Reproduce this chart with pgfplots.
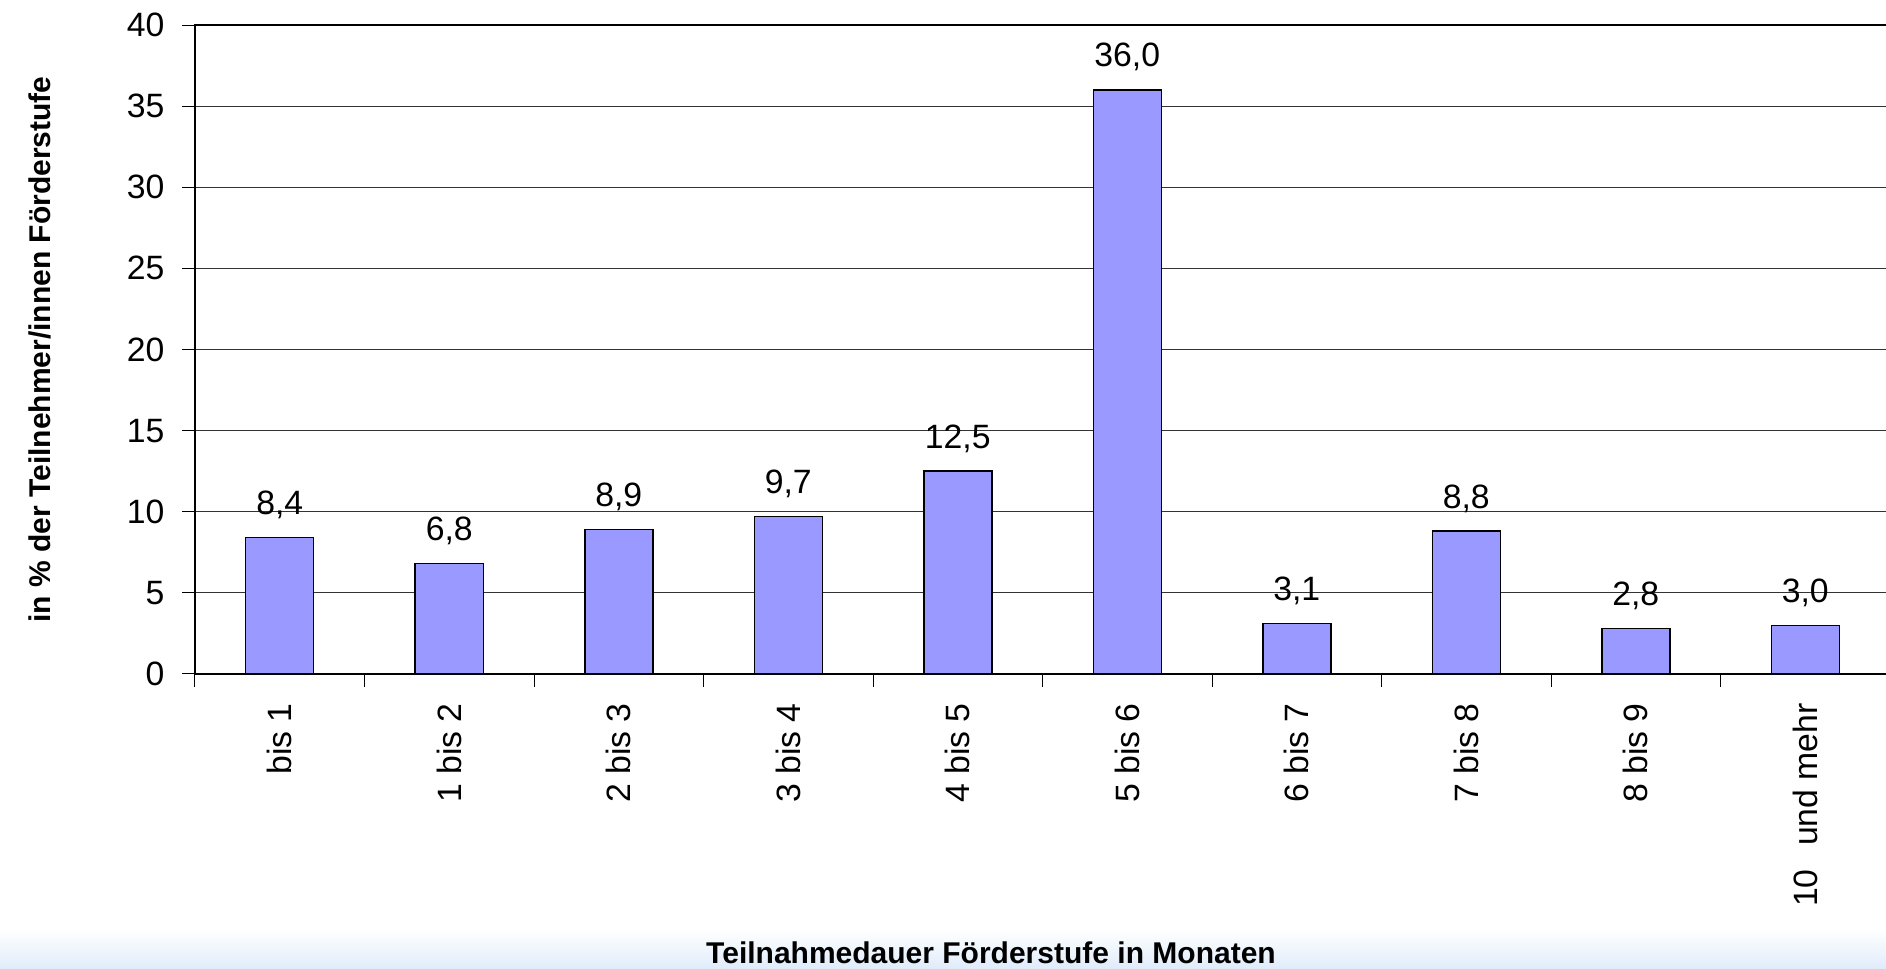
\documentclass[border=0pt]{standalone}
\usepackage{pgfplots}
\pgfplotsset{compat=1.18}
\usepackage{fontspec}
\setmainfont{Liberation Sans}

\definecolor{barblue}{RGB}{153,153,255}
\definecolor{bandblue}{RGB}{224,236,251}

\begin{document}
\begin{tikzpicture}
% picture frame: 1 px of the reference = 0.4pt
\path[use as bounding box] (-78pt,-118pt) rectangle (676.4pt,269.6pt);
\shade[top color=white, bottom color=bandblue] (-78pt,-118pt) rectangle (676.4pt,-102pt);
\begin{axis}[
    ybar,
    scale only axis,
    width=678pt, height=259.6pt,
    xmin=-0.5, xmax=9.5,
    ymin=0, ymax=40,
    ytick={0,5,...,40},
    xtick={-0.5,0.5,...,9.5},
    xticklabels={},
    extra x ticks={0,1,...,9},
    extra x tick labels={bis 1, 1 bis 2, 2 bis 3, 3 bis 4, 4 bis 5, 5 bis 6,
        6 bis 7, 7 bis 8, 8 bis 9, 10\hspace{0.7em}und mehr},
    extra x tick style={major tick length=0pt, grid=none},
    tick pos=left,
    tick align=outside,
    major tick length=5pt,
    tick style={black, line width=0.4pt},
    ymajorgrids,
    grid style={black!80, line width=0.4pt},
    axis line style={black, line width=0.5pt},
    bar width=27.2pt,
    /pgf/number format/assume math mode=true,
    tick label style={font=\fontsize{13.5}{16}\selectfont},
    yticklabel style={anchor=east, inner sep=0pt, xshift=-7pt},
    xticklabel style={yshift=-11.5pt, rotate=90, anchor=east, inner sep=0pt},
    nodes near coords,
    every node near coord/.append style={font=\fontsize{13.5}{16}\selectfont,
        /pgf/number format/fixed, /pgf/number format/fixed zerofill,
        /pgf/number format/precision=1, /pgf/number format/use comma,
        anchor=base, inner sep=0pt, yshift=9.2pt, black},
    xlabel={Teilnahmedauer Förderstufe in Monaten},
    xlabel style={font=\bfseries\fontsize{12}{14}\selectfont,
        at={([xshift=318.4pt, yshift=-111.6pt]rel axis cs:0,0)}, anchor=center},
    ylabel={in \% der Teilnehmer/innen Förderstufe},
    ylabel style={font=\bfseries\fontsize{12}{14}\selectfont,
        at={([xshift=-62pt]rel axis cs:0,0.5)}, anchor=center},
]
\addplot[fill=barblue, draw=black, line width=0.6pt] coordinates {
    (0, 8.4)
    (1, 6.8)
    (2, 8.9)
    (3, 9.7)
    (4, 12.5)
    (5, 36.0)
    (6, 3.1)
    (7, 8.8)
    (8, 2.8)
    (9, 3.0)
};
\end{axis}
\end{tikzpicture}
\end{document}
